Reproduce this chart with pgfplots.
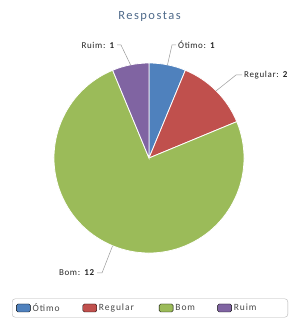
\documentclass[border=0pt]{standalone}
\usepackage{pgfplots}
\usepackage{pgfplotstable}
\usepackage{fontspec}
\setmainfont{Carlito}
\pgfplotsset{compat=1.18}
\definecolor{cotimo}{HTML}{4F81BD}
\definecolor{cregular}{HTML}{C0504D}
\definecolor{cbom}{HTML}{9BBB59}
\definecolor{cruim}{HTML}{8064A2}
\definecolor{titlecol}{HTML}{4F6A8A}
\definecolor{txt}{HTML}{262626}
\definecolor{legtxt}{HTML}{4A4A4A}

\pgfplotstableread{
label value color
Otimo 1 cotimo
Regular 2 cregular
Bom 12 cbom
Ruim 1 cruim
}\datatable

\newcommand{\lab}{\fontsize{9}{10}\selectfont\addfontfeature{LetterSpace=7}}
\newcommand{\leg}{\fontsize{9.5}{10}\selectfont\addfontfeature{LetterSpace=10}}
\begin{document}
\begin{tikzpicture}
\begin{axis}[
  scale only axis, width=294pt, height=322pt,
  xmin=0, xmax=294, ymin=0, ymax=322,
  hide axis, clip=false,
  legend columns=4,
  legend style={at={(axis cs:12,14)}, anchor=west, draw=gray!60, rounded corners=3pt,
    inner xsep=4pt, inner ysep=2.5pt, font=\leg\color{legtxt},
    nodes={inner xsep=2pt},
    /tikz/every even column/.append style={column sep=0pt}},
  legend cell align=left,
  legend image code/.code={\fill[#1, rounded corners=1.5pt] (0pt,-4pt) rectangle (14pt,4pt);},
]
\addlegendimage{fill=cotimo}\addlegendentry{\makebox[48pt][l]{Ótimo}}
\addlegendimage{fill=cregular}\addlegendentry{\makebox[58pt][l]{Regular}}
\addlegendimage{fill=cbom}\addlegendentry{\makebox[40pt][l]{Bom}}
\addlegendimage{fill=cruim}\addlegendentry{\makebox[48pt][l]{Ruim}}

\path (axis cs:0,0) rectangle (axis cs:294,322);

\pgfplotsextra{
  \pgfplotstablegetrowsof{\datatable}
  \pgfmathtruncatemacro\nrows{\pgfplotsretval-1}
  \xdef\startang{90}
  \foreach \i in {0,...,\nrows} {
    \pgfplotstablegetelem{\i}{value}\of\datatable \let\v\pgfplotsretval
    \pgfplotstablegetelem{\i}{color}\of\datatable \let\c\pgfplotsretval
    \pgfmathsetmacro\endang{\startang-360*\v/16}
    \fill[fill=\c, draw=white, line width=0.8pt] (axis cs:149,164) -- ++(\startang:95pt)
      arc[start angle=\startang, end angle=\endang, radius=95pt] -- cycle;
    \xdef\startang{\endang}
  }
}

\node[font=\fontsize{12.5}{14}\selectfont\addfontfeature{LetterSpace=12}, text=titlecol] at (axis cs:149.5,306) {Respostas};

\draw[gray!80, line width=0.5pt] (axis cs:117,277) -- (axis cs:121,277) -- (axis cs:130.5,257.2);
\node[anchor=east, font=\lab, text=txt, inner sep=1pt] at (axis cs:116,277) {Ruim: \textbf{1}};

\draw[gray!80, line width=0.5pt] (axis cs:176,277) -- (axis cs:172,277) -- (axis cs:167.5,257.2);
\node[anchor=west, font=\lab, text=txt, inner sep=1pt] at (axis cs:177,277) {Ótimo: \textbf{1}};

\draw[gray!80, line width=0.5pt] (axis cs:242,247) -- (axis cs:236,247) -- (axis cs:216.2,231.2);
\node[anchor=west, font=\lab, text=txt, inner sep=1pt] at (axis cs:243,247) {Regular: \textbf{2}};

\draw[gray!80, line width=0.5pt] (axis cs:97,49) -- (axis cs:102,49) -- (axis cs:112.6,76.2);
\node[anchor=east, font=\lab, text=txt, inner sep=1pt] at (axis cs:96,49) {Bom: \textbf{12}};
\end{axis}
\end{tikzpicture}
\end{document}
